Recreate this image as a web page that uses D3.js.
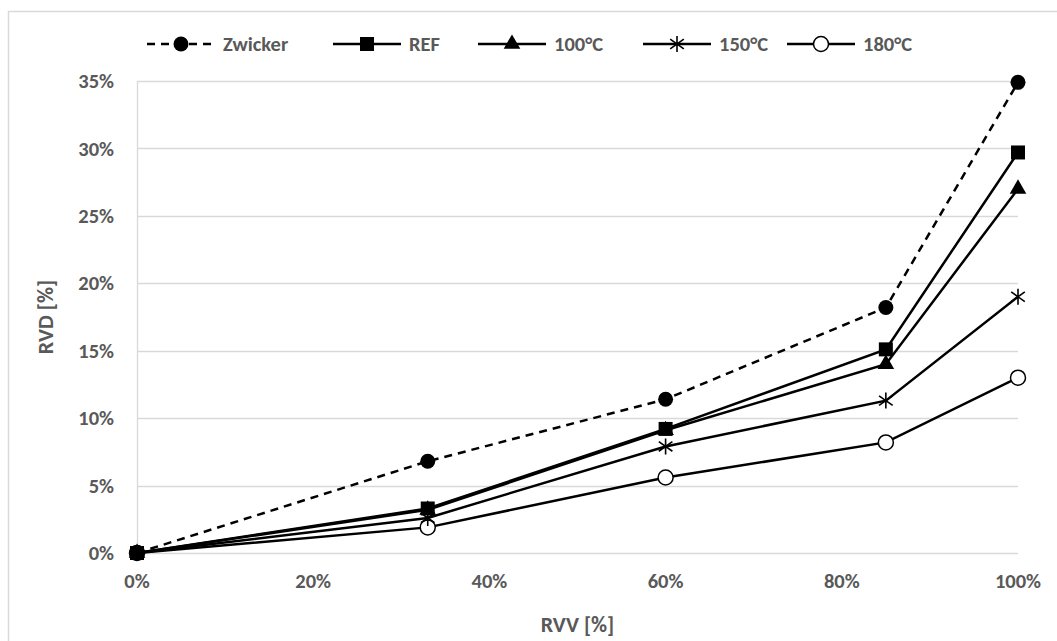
<!DOCTYPE html>
<html lang="en">
<head>
<meta charset="UTF-8">
<title>RVD vs RVV</title>
<script src="https://cdnjs.cloudflare.com/ajax/libs/d3/7.8.5/d3.min.js"></script>
<style>
  body { margin: 0; background: #fff; }
  text { font-family: Carlito, Calibri, Lato, sans-serif; font-weight: bold; fill: #595959; }
</style>
</head>
<body>
<svg id="chart" width="1057" height="641"></svg>
<script>
// data
const rvv = [0, 0.33, 0.60, 0.85, 1.00];
const zwicker = [0, 0.068, 0.114, 0.182, 0.349];
const ref = [0, 0.033, 0.092, 0.151, 0.297];
const t100 = [0, 0.032, 0.091, 0.140, 0.270];
const t150 = [0, 0.026, 0.079, 0.113, 0.190];
const t180 = [0, 0.019, 0.056, 0.082, 0.130];
const xTicks = [0, 0.2, 0.4, 0.6, 0.8, 1.0];
const yTicks = [0, 0.05, 0.10, 0.15, 0.20, 0.25, 0.30, 0.35];

const series = [
  { name: 'Zwicker', values: zwicker, marker: 'circle', dash: '8,6' },
  { name: 'REF', values: ref, marker: 'square' },
  { name: '100°C', values: t100, marker: 'triangle' },
  { name: '150°C', values: t150, marker: 'star' },
  { name: '180°C', values: t180, marker: 'open' }
];

const svg = d3.select('#chart');

// outer border
svg.append('rect')
  .attr('x', 8.5).attr('y', 11.5).attr('width', 1060).attr('height', 660)
  .attr('fill', 'none').attr('stroke', '#d9d9d9').attr('stroke-width', 1.5);

const x = d3.scaleLinear().domain([0, 1]).range([137, 1018]);
const y = d3.scaleLinear().domain([0, 0.35]).range([553, 81]);
const pct = d3.format('.0%');

// gridlines
svg.append('g').selectAll('line').data(yTicks).join('line')
  .attr('x1', x(0)).attr('x2', x(1))
  .attr('y1', d => Math.round(y(d)) + 0.5).attr('y2', d => Math.round(y(d)) + 0.5)
  .attr('stroke', '#d9d9d9').attr('stroke-width', 1.3);

// y axis line
svg.append('line')
  .attr('x1', x(0) + 0.5).attr('x2', x(0) + 0.5).attr('y1', y(0.35)).attr('y2', y(0))
  .attr('stroke', '#d9d9d9').attr('stroke-width', 1.3);

// tick labels
svg.append('g').selectAll('text').data(yTicks).join('text')
  .attr('x', 114).attr('y', d => y(d)).attr('dy', '0.35em')
  .attr('text-anchor', 'end').attr('font-size', 20.5)
  .text(d => pct(d));

svg.append('g').selectAll('text').data(xTicks).join('text')
  .attr('x', d => x(d)).attr('y', 581).attr('dy', '0.35em')
  .attr('text-anchor', 'middle').attr('font-size', 20.5)
  .text(d => pct(d));

// axis titles
svg.append('text').attr('x', x(0.5)).attr('y', 624).attr('dy', '0.35em')
  .attr('text-anchor', 'middle').attr('font-size', 22).text('RVV [%]');
svg.append('text').attr('transform', 'translate(45,' + y(0.175) + ') rotate(-90)')
  .attr('dy', '0.35em').attr('text-anchor', 'middle').attr('font-size', 22).text('RVD [%]');

function drawMarker(g, type) {
  if (type === 'circle') {
    g.append('circle').attr('r', 7.5).attr('fill', '#000');
  } else if (type === 'open') {
    g.append('circle').attr('r', 7.5).attr('fill', '#fff').attr('stroke', '#000').attr('stroke-width', 1.5);
  } else if (type === 'square') {
    g.append('path').attr('d', d3.symbol(d3.symbolSquare, 196)()).attr('fill', '#000');
  } else if (type === 'triangle') {
    g.append('path').attr('d', d3.symbol(d3.symbolTriangle, 120)()).attr('fill', '#000');
  } else if (type === 'star') {
    const r = 8;
    g.append('path')
      .attr('d', `M0,${-r}L0,${r}M${-r * 0.85},${-r * 0.6}L${r * 0.85},${r * 0.6}M${-r * 0.85},${r * 0.6}L${r * 0.85},${-r * 0.6}`)
      .attr('stroke', '#000').attr('stroke-width', 1.6).attr('fill', 'none');
  }
}

const line = d3.line().x(d => x(d[0])).y(d => y(d[1]));

series.forEach(s => {
  const pts = rvv.map((v, i) => [v, s.values[i]]);
  svg.append('path').datum(pts)
    .attr('d', line).attr('fill', 'none').attr('stroke', '#000')
    .attr('stroke-width', 2.5).attr('stroke-dasharray', s.dash || null);
});
series.slice().reverse().forEach(s => {
  rvv.forEach((v, i) => {
    const g = svg.append('g').attr('transform', `translate(${x(v)},${y(s.values[i])})`);
    drawMarker(g, s.marker);
  });
});

// legend
const legendX = [181, 367, 512, 677, 821];
series.forEach((s, i) => {
  const cx = legendX[i];
  svg.append('line').attr('x1', cx - 34).attr('x2', cx + 34).attr('y1', 44).attr('y2', 44)
    .attr('stroke', '#000').attr('stroke-width', 2.5).attr('stroke-dasharray', s.dash || null);
  const g = svg.append('g').attr('transform', `translate(${cx},44)`);
  drawMarker(g, s.marker);
  svg.append('text').attr('x', cx + 42).attr('y', 44).attr('dy', '0.35em')
    .attr('font-size', 20.5).text(s.name);
});
</script>
</body>
</html>
